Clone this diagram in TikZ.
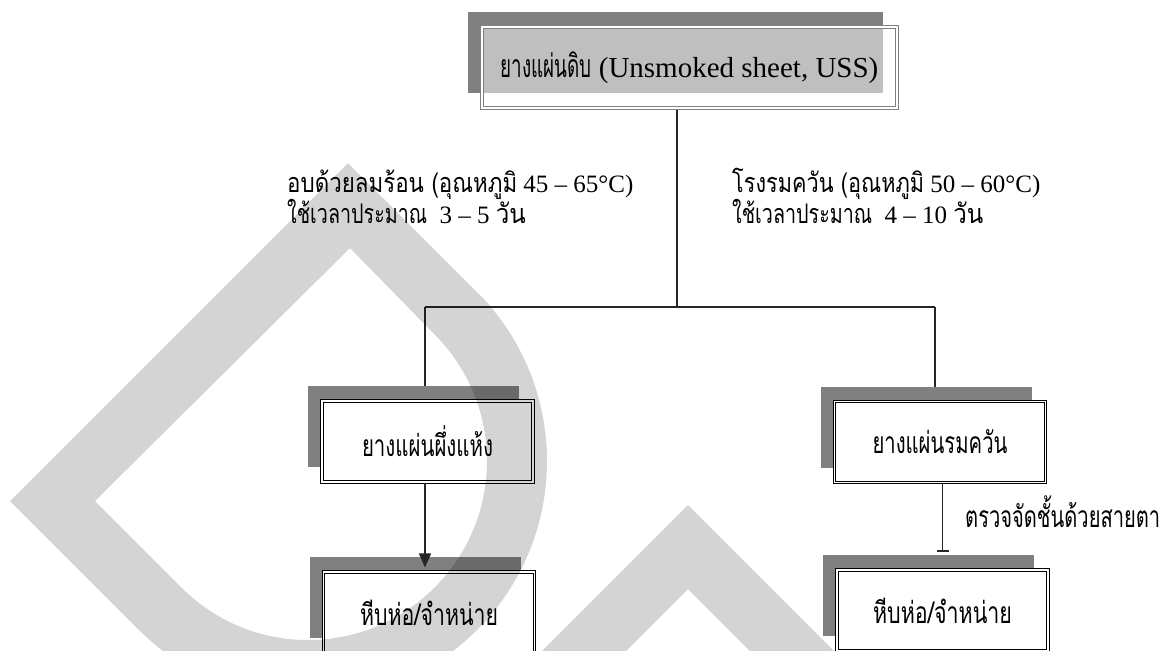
\documentclass[tikz,border=0pt]{standalone}
\usepackage{graphicx}
\usepackage{fontspec}
\setmainfont{Liberation Serif}
\newfontfamily\thaifont[Script=Thai]{Loma}
\newcommand{\thaitext}[1]{{\fontsize{27}{27}\selectfont\thaifont #1}}
\newcommand{\thaitop}[1]{{\fontsize{32}{32}\selectfont\thaifont #1}}
\newcommand{\fitw}[2]{\resizebox{#1}{\height}{#2}}
\usetikzlibrary{arrows.meta,shadows,backgrounds}
\definecolor{shadowgrey}{HTML}{808080}
\tikzset{
  boxshadow/.style={drop shadow={shadow xshift=-14pt,shadow yshift=15pt,fill=shadowgrey,fill opacity=1,opacity=1}},
  topbox/.style={rectangle,boxshadow,draw=black!50,double=white,double distance=1.6pt,line width=1pt,
    fill=white,fill opacity=0.5,text opacity=1,minimum width=415pt,minimum height=81pt,inner sep=0pt,
    font=\fontsize{29}{33}\selectfont},
  stagebox/.style={rectangle,boxshadow,draw=black,double=white,double distance=1.6pt,line width=1.1pt,
    fill=white,minimum width=211pt,minimum height=81pt,inner sep=0pt,
    font=\fontsize{30}{34}\selectfont\thaifont},
  lab/.style={anchor=base west,inner sep=0pt,font=\fontsize{25}{31}\selectfont},
  conn/.style={line width=1.2pt,draw=black!85},
  arr/.style={conn,-{Triangle[length=14pt,width=12pt]}},
  tee/.style={conn,-{Bar[width=12pt,line width=2.6pt]}},
  wmark/.style={fill=black,fill opacity=0.17,even odd rule}
}
\begin{document}
\begin{tikzpicture}[x=1pt,y=-1pt]
\useasboundingbox (0,0) rectangle (1163,651);
% boxes
\node[topbox] (top) at (689.5,67.5) {\fitw{91pt}{\thaitop{ยางแผ่นดิบ}} (Unsmoked sheet, USS)};
\node[stagebox] (lbox) at (427.5,441.5) {\fitw{131pt}{ยางแผ่นผึ่งแห้ง}};
\node[stagebox] (rbox) at (940,442) {\fitw{135pt}{ยางแผ่นรมควัน}};
\node[stagebox] (llow) at (429,612.5) {\fitw{138pt}{หีบห่อ/จำหน่าย}};
\node[stagebox] (rlow) at (942.5,610.5) {\fitw{139pt}{หีบห่อ/จำหน่าย}};
% labels
\node[lab] (l1a) at (287,192) {\fitw{230pt}{\thaitext{อบด้วยลมร้อน (อุณหภูมิ}} 45 – 65°C)};
\node[lab] (l1b) at (287,223) {\fitw{140pt}{\thaitext{ใช้เวลาประมาณ}}\ \ 3 – 5 \fitw{30pt}{\thaitext{วัน}}};
\node[lab] (l2a) at (732,192) {\fitw{192pt}{\thaitext{โรงรมควัน (อุณหภูมิ}} 50 – 60°C)};
\node[lab] (l2b) at (732,223) {\fitw{140pt}{\thaitext{ใช้เวลาประมาณ}}\ \ 4 – 10 \fitw{30pt}{\thaitext{วัน}}};
\node[anchor=base west,inner sep=0pt,font=\fontsize{30}{34}\selectfont\thaifont] (l3) at (965,527) {\fitw{195pt}{ตรวจจัดชั้นด้วยสายตา}};
% junction coordinates
\coordinate (j) at (677,307);
\coordinate (jl) at (425,307);
\coordinate (jr) at (935,307);
\begin{scope}[on background layer]
\draw[conn] (top.south -| j) -- (j);
\draw[conn] (jl) -- (jr);
\draw[conn] (jl) -- (lbox.north -| jl);
\draw[conn] (jr) -- (rbox.north -| jr);
\end{scope}
\draw[arr] (lbox.south -| jl) -- ([yshift=4pt]llow.north -| jl);
\draw[tee] (rbox.south -| rlow.north) -- ([yshift=17pt]rlow.north);
% watermark
\begin{scope}
\clip (0,0) rectangle (1163,651);
\fill[wmark] (348,163) -- (10,501) -- (139,630) arc[start angle=135,end angle=-45,radius=239] -- cycle
  (350,248) -- (95,501) -- (181.4,587.6) arc[start angle=135,end angle=-45,radius=179] -- cycle;
\fill[wmark] (488,705) -- (688,505) -- (888,705) -- (804,705) -- (688,589) -- (572,705) -- cycle;
\end{scope}
\end{tikzpicture}
\end{document}
